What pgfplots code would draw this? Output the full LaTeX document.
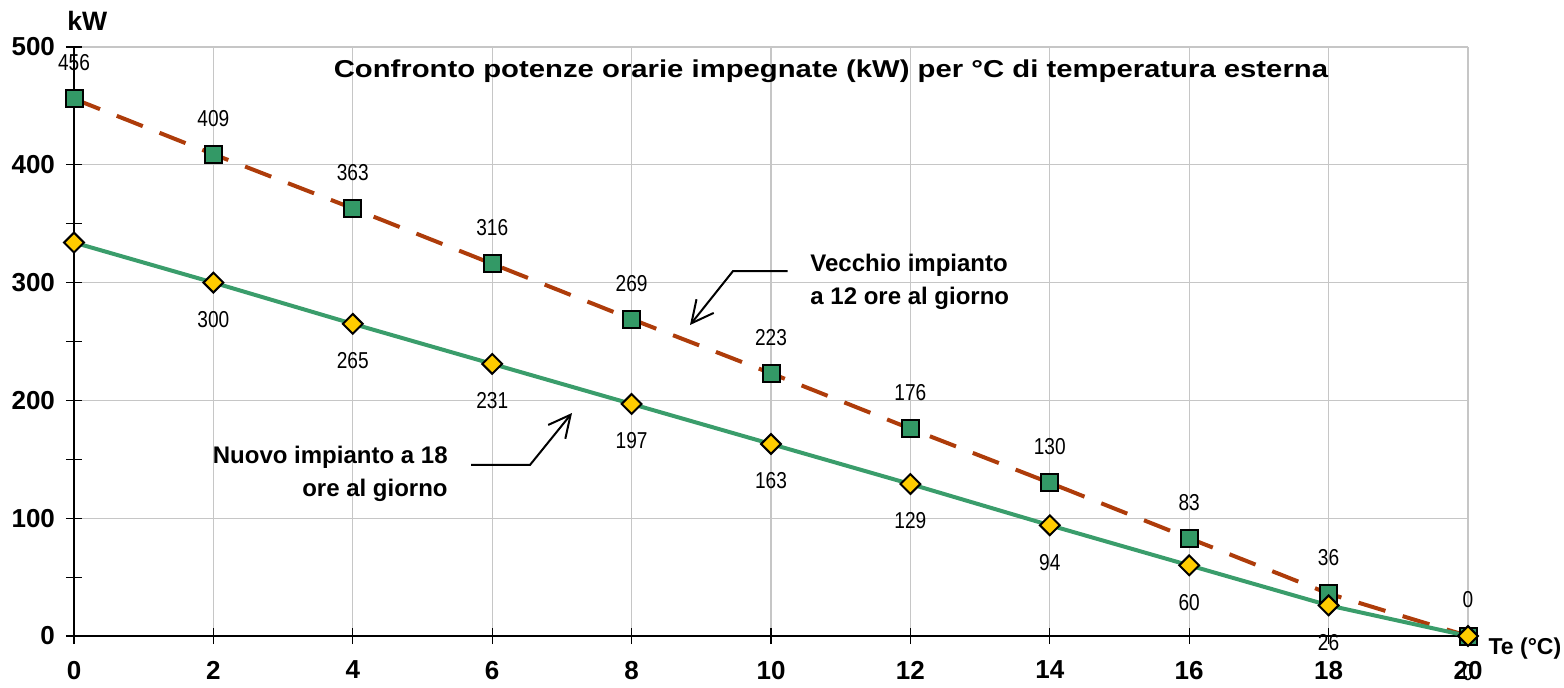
\documentclass[border=0pt]{standalone}
\usepackage{fontspec}
\setmainfont{Liberation Sans}
\newfontfamily\narrowfont[FakeStretch=0.83]{Liberation Sans}
\newfontfamily\widefont[FakeStretch=1.2]{Liberation Sans}
\usepackage{pgfplots}
\pgfplotsset{compat=1.18}
\usetikzlibrary{arrows.meta}
\definecolor{oldline}{HTML}{AE3C0A}
\definecolor{newline}{HTML}{3A9D6B}
\definecolor{sqfill}{HTML}{339966}
\definecolor{dmfill}{HTML}{FFCC00}
\begin{document}
\begin{tikzpicture}
\path[use as bounding box] (-37pt,-25.5pt) rectangle (745pt,318pt);
\begin{axis}[
  scale only axis, width=697pt, height=294.5pt,
  xmin=0, xmax=20, ymin=0, ymax=500,
  xtick={0,2,...,20}, ytick={0,100,...,500},
  minor y tick num=1,
  axis lines*=left,
  axis line style={black, line width=0.8pt},
  tick align=center, major tick length=8pt, minor tick length=8pt,
  tick style={black, line width=0.6pt},
  grid=major,
  major grid style={gray!45, line width=0.6pt},
  /pgf/number format/assume math mode=true,
  tick label style={font=\fontsize{13}{15}\selectfont\bfseries},
  xticklabel style={yshift=-5pt},
  yticklabel style={xshift=-2pt},
  clip=false,
]
% Vecchio impianto (12 ore)
\addplot[color=oldline, line width=2pt, dash pattern=on 14pt off 9pt,
  mark=square*, mark size=4.25pt,
  mark options={solid, fill=sqfill, draw=black, line width=1pt},
  nodes near coords,
  nodes near coords style={anchor=center, yshift=18pt, text=black,
    font=\narrowfont\fontsize{11.5}{13}\selectfont},
] coordinates {
(0,456) (2,409) (4,363) (6,316) (8,269) (10,223) (12,176) (14,130) (16,83) (18,36) (20,0)
};
% Nuovo impianto (18 ore)
\addplot[color=newline, line width=2pt,
  mark=square*, mark size=3.5pt,
  mark options={solid, rotate=45, fill=dmfill, draw=black, line width=1pt},
] coordinates {
(0,334) (2,300) (4,265) (6,231) (8,197) (10,163) (12,129) (14,94) (16,60) (18,26) (20,0)
};
\addplot[draw=none, mark=none,
  nodes near coords,
  nodes near coords style={anchor=center, yshift=-18.5pt, text=black,
    font=\narrowfont\fontsize{11.5}{13}\selectfont},
] coordinates {
(2,300) (4,265) (6,231) (8,197) (10,163) (12,129) (14,94) (16,60) (18,26) (20,0)
};
% title and labels
\node[anchor=base, inner sep=0pt, font=\widefont\fontsize{12.2}{14}\selectfont\bfseries]
  at (axis cs:10.86,473.7) {Confronto potenze orarie impegnate (kW) per °C di temperatura esterna};
\node[anchor=base west, inner sep=0pt, font=\fontsize{13.3}{15}\selectfont\bfseries]
  at (axis cs:-0.1,514.4) {kW};
\node[anchor=base west, inner sep=0pt, font=\fontsize{11.5}{14}\selectfont\bfseries]
  at (axis cs:20.29,-15.3) {Te (°C)};
% annotations
\draw[black, line width=1pt, -{Straight Barb[length=11pt,width=11pt]}]
  (axis cs:10.24,309.8) -- (axis cs:9.455,309.8) -- (axis cs:8.838,264.0);
\draw[black, line width=1pt, -{Straight Barb[length=11pt,width=11pt]}]
  (axis cs:5.696,145.2) -- (axis cs:6.542,145.2) -- (axis cs:7.145,189.3);
\node[anchor=west, inner sep=0pt, align=left,
  font=\fontsize{12}{16.5}\selectfont\bfseries]
  at (axis cs:10.56,300.9) {Vecchio impianto\\a 12 ore al giorno};
\node[anchor=east, inner sep=0pt, align=right,
  font=\fontsize{12}{16.5}\selectfont\bfseries]
  at (axis cs:5.366,137.5) {Nuovo impianto a 18\\ore al giorno};
\end{axis}
\end{tikzpicture}
\end{document}
